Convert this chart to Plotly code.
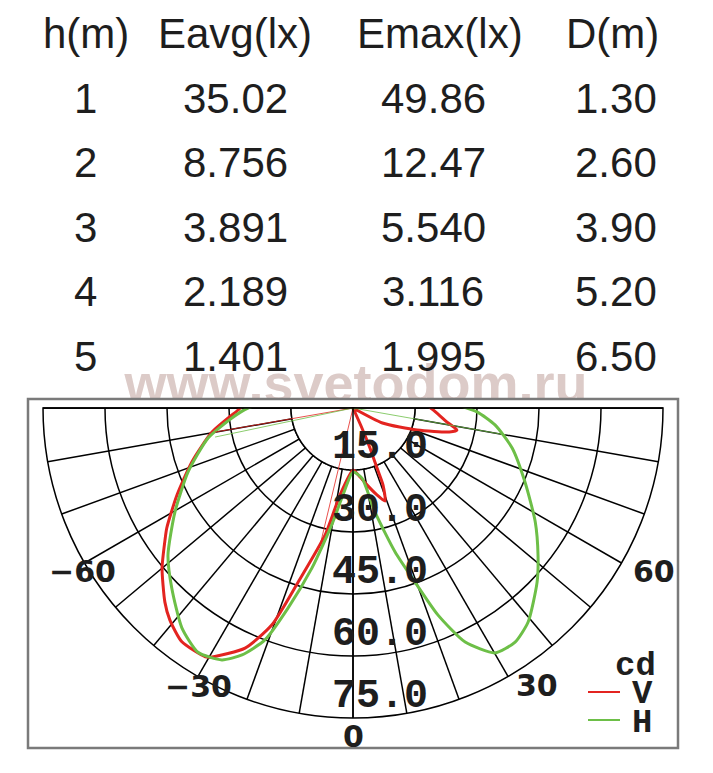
import plotly.graph_objects as go

W, H = 713, 773

# ---------------- table data ----------------
headers = ["h(m)", "Eavg(lx)", "Emax(lx)", "D(m)"]
h_m = ["1", "2", "3", "4", "5"]
e_avg = ["35.02", "8.756", "3.891", "2.189", "1.401"]
e_max = ["49.86", "12.47", "5.540", "3.116", "1.995"]
d_m = ["1.30", "2.60", "3.90", "5.20", "6.50"]
watermark = "www.svetodom.ru"

# ---------------- polar data (cd) ----------------
v_theta = [-108, -100, -95, -90, -89, -80.3, -71.5, -63.7, -57.2, -54.9, -50, -44.1, -40.8,
           -36.2, -30.7, -29.5, -24.2, -20.5, -17.5, -12.4, -8.5, 0, 4.3, 10.3, 15.4, 19,
           21.3, 21.8, 23, 24, 25, 62, 63, 71, 76, 78, 81.5, 88.6, 92, 100]
v_r = [10, 20, 24, 27.3, 27.8, 34.6, 41.1, 47.5, 53.6, 55.6, 60.3, 65.4, 67.8,
       70.1, 70, 69.2, 63.7, 56, 44.2, 31.5, 21.3, 15.0, 16.2, 18.9, 21.8, 23.8,
       20, 15.6, 10.5, 5.3, 0, 0, 8, 16.4, 24, 25.7, 23, 19.4, 18, 15]

h_theta = [-120, -108, -100, -90, -85.3, -78.3, -68.8, -59.7, -51.5, -45.2, -37.9, -32.4,
           -27.5, -24.2, -20.8, -18, -14.4, -12.4, -10, -6.6, 0, 7.3, 11.9, 16.3, 19.6,
           22.3, 25.6, 30.1, 34.7, 39.3, 46.6, 51.5, 58, 66.7, 75.9, 83.2, 88.2,
           93, 100, 105, 120]
h_r = [0, 7.7, 15.5, 25.4, 29.4, 35.8, 42.8, 49.9, 57.2, 61.8, 67.4, 70,
       68.7, 65.5, 60, 50.9, 40, 33.9, 28, 21.2, 15.5, 17.1, 25.7, 36.3, 44.7,
       54.1, 62.8, 68.5, 68.9, 66.9, 61.3, 57.2, 52, 45.3, 39.7, 34.6, 30,
       23.5, 14, 5.5, 0]

# thin construction rays from the origin (theta, r)
v_ray_theta = [-80.1, -13.5]
v_ray_r = [33.9, 34]
h_ray_theta = [-78.1, 80]
h_ray_r = [34.1, 37.5]

radial_ticks = [15, 30, 45, 60, 75]
radial_text = ["15.0", "30.0", "45.0", "60.0", "75.0"]
angle_step = 10
angle_text = ["\u221260", "\u221230", "0", "30", "60"]
RMAX = 75

# ---------------- geometry / style ----------------
CX, CY, R = 353, 408, 310
RED = "#e32420"
GREEN = "#6dbf47"


def px(x):
    return x / W


def py(y):
    return 1 - y / H


fig = go.Figure()

# watermark (clipped by its own hidden cartesian area at the frame top)
fig.add_trace(go.Scatter(
    x=[356], y=[388], mode="text", text=[watermark],
    textfont=dict(family="Liberation Sans, Arial", size=54, color="#dccbc8", weight="bold"),
    textposition="middle center", cliponaxis=True, hoverinfo="skip", showlegend=False))

# white inner disc hiding spokes inside the first ring
disc_theta = list(range(-90, 91))
fig.add_trace(go.Scatterpolar(
    r=[radial_ticks[0]] * len(disc_theta), theta=disc_theta, mode="lines",
    fill="toself", fillcolor="white", line=dict(color="black", width=1.5),
    hoverinfo="skip", showlegend=False))
# full diameter line
fig.add_trace(go.Scatterpolar(
    r=[RMAX, RMAX], theta=[-90, 90], mode="lines",
    line=dict(color="black", width=1.5), hoverinfo="skip", showlegend=False))

fig.add_trace(go.Scatterpolar(r=v_r, theta=v_theta, mode="lines", name="V",
                              line=dict(color=RED, width=3, shape="spline", smoothing=0.6),
                              showlegend=False))
fig.add_trace(go.Scatterpolar(r=h_r, theta=h_theta, mode="lines", name="H",
                              line=dict(color=GREEN, width=3, shape="spline", smoothing=0.6),
                              showlegend=False))

for t, rr in zip(v_ray_theta, v_ray_r):
    fig.add_trace(go.Scatterpolar(r=[0, rr], theta=[t, t], mode="lines",
                                  line=dict(color=RED, width=0.8), hoverinfo="skip", showlegend=False))
for t, rr in zip(h_ray_theta, h_ray_r):
    fig.add_trace(go.Scatterpolar(r=[0, rr], theta=[t, t], mode="lines",
                                  line=dict(color=GREEN, width=0.8), hoverinfo="skip", showlegend=False))

annotations = []
# table
header_x = [86, 235, 440, 612]
col_x = [85, 235, 433, 616]
base0, step = 48, 64.6
tfont = dict(family="Liberation Sans, Arial", size=42, color="#1e1e1e")
for x, t in zip(header_x, headers):
    annotations.append(dict(x=px(x), y=py(base0 - 14.6), text=t, font=tfont))
for i, row in enumerate(zip(h_m, e_avg, e_max, d_m)):
    yb = base0 + step * (i + 1)
    for x, t in zip(col_x, row):
        annotations.append(dict(x=px(x), y=py(yb - 14.6), text=t, font=tfont))

# radial labels
mfont = dict(family="Liberation Mono, Courier New", size=40, color="#1e1e1e", weight="bold")
for v, t in zip(radial_ticks, radial_text):
    annotations.append(dict(x=px(380), y=py(CY + v / RMAX * R - 22), text=t, font=mfont))

# angular labels
angle_pos = [(82, 571), (198, 686), (353, 736), (537, 685), (654, 571)]
afont = dict(family="DejaVu Sans, Verdana", size=30, color="#1e1e1e", weight="bold")
for (x, y), t in zip(angle_pos, angle_text):
    annotations.append(dict(x=px(x), y=py(y), text=t, font=afont))

# legend
lfont = dict(family="Liberation Mono, Courier New", size=34, color="#1e1e1e", weight="bold")
annotations.append(dict(x=px(635), y=py(666), text="cd", font=lfont))
annotations.append(dict(x=px(642), y=py(694), text="V", font=lfont))
annotations.append(dict(x=px(642), y=py(723), text="H", font=lfont))

for a in annotations:
    a.update(xref="paper", yref="paper", xanchor="center", yanchor="middle", showarrow=False)

shapes = [
    dict(type="rect", xref="paper", yref="paper", x0=px(28), x1=px(678), y0=py(748), y1=py(399),
         line=dict(color="#7a7a7a", width=2.5), fillcolor="rgba(0,0,0,0)", layer="above"),
    dict(type="line", xref="paper", yref="paper", x0=px(588), x1=px(620), y0=py(692), y1=py(692),
         line=dict(color=RED, width=2), layer="above"),
    dict(type="line", xref="paper", yref="paper", x0=px(588), x1=px(620), y0=py(720), y1=py(720),
         line=dict(color=GREEN, width=2), layer="above"),
]

grid = dict(color="black", width=1.5)
fig.update_layout(
    width=W, height=H, margin=dict(l=0, r=0, t=0, b=0),
    paper_bgcolor="white", plot_bgcolor="white", showlegend=False,
    xaxis=dict(domain=[0, 1], range=[0, W], visible=False, fixedrange=True),
    yaxis=dict(domain=[py(399), 1], range=[399, 0], visible=False, fixedrange=True),
    polar=dict(
        domain=dict(x=[px(CX - R), px(CX + R)], y=[py(CY + R), py(CY)]),
        sector=[180, 360], bgcolor="white",
        radialaxis=dict(range=[0, RMAX], tickmode="array", tickvals=radial_ticks,
                        showticklabels=False, ticks="", showgrid=True,
                        gridcolor=grid["color"], gridwidth=grid["width"],
                        showline=True, linecolor="black", linewidth=1.5,
                        angle=270, layer="above traces"),
        angularaxis=dict(rotation=-90, direction="counterclockwise", thetaunit="degrees",
                         tickmode="linear", tick0=0, dtick=angle_step, showticklabels=False,
                         ticks="", showgrid=True, gridcolor=grid["color"],
                         gridwidth=grid["width"], showline=True, linecolor="black",
                         linewidth=1.5, layer="above traces"),
    ),
    annotations=annotations, shapes=shapes,
)

fig.write_html("out.html", config={"displayModeBar": False, "staticPlot": True},
               post_script="document.body.style.margin='0px';")
